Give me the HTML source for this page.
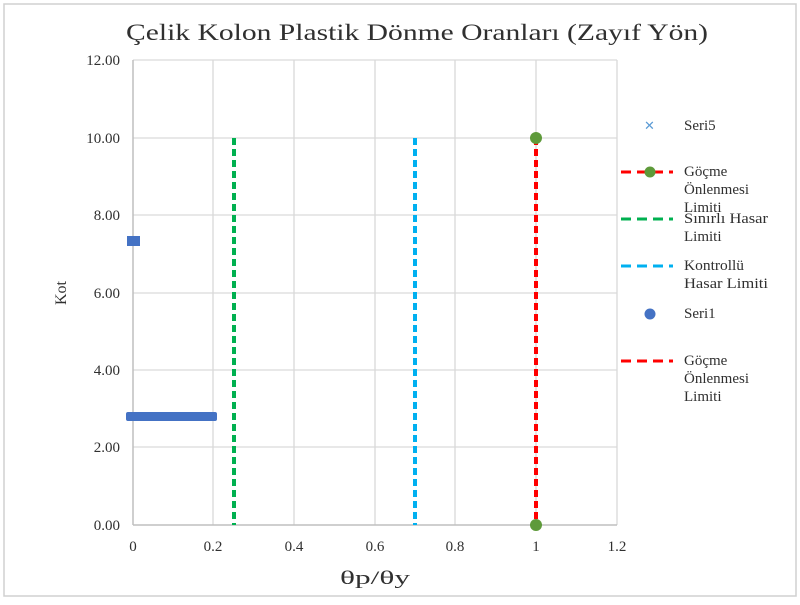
<!DOCTYPE html>
<html><head><meta charset="utf-8"><style>
body{margin:0;background:#fff;}
svg text{font-family:"Liberation Serif",serif;fill:#303030;}
</style></head><body>
<svg width="800" height="600" xmlns="http://www.w3.org/2000/svg">
<rect x="4" y="4" width="792" height="592" fill="#fff" stroke="#d0d0d0" stroke-width="1.5"/>
<text x="126" y="40" font-size="23" textLength="582" lengthAdjust="spacingAndGlyphs">Çelik Kolon Plastik Dönme Oranları (Zayıf Yön)</text>
<g stroke="#d9d9d9" stroke-width="1.3">
<line x1="133" y1="60" x2="617" y2="60"/><line x1="133" y1="138" x2="617" y2="138"/>
<line x1="133" y1="215" x2="617" y2="215"/><line x1="133" y1="293" x2="617" y2="293"/>
<line x1="133" y1="370" x2="617" y2="370"/><line x1="133" y1="447" x2="617" y2="447"/>
<line x1="213" y1="60" x2="213" y2="525"/><line x1="294" y1="60" x2="294" y2="525"/>
<line x1="375" y1="60" x2="375" y2="525"/><line x1="455" y1="60" x2="455" y2="525"/>
<line x1="536" y1="60" x2="536" y2="525"/><line x1="617" y1="60" x2="617" y2="525"/>
</g>
<g stroke="#bfbfbf" stroke-width="1.5"><line x1="133" y1="60" x2="133" y2="525"/><line x1="133" y1="525" x2="617" y2="525"/></g>
<g font-size="15" text-anchor="end">
<text x="120" y="65">12.00</text><text x="120" y="143">10.00</text><text x="120" y="220">8.00</text>
<text x="120" y="298">6.00</text><text x="120" y="375">4.00</text><text x="120" y="452">2.00</text><text x="120" y="530">0.00</text>
</g>
<g font-size="15" text-anchor="middle">
<text x="133" y="551">0</text><text x="213" y="551">0.2</text><text x="294" y="551">0.4</text><text x="375" y="551">0.6</text>
<text x="455" y="551">0.8</text><text x="536" y="551">1</text><text x="617" y="551">1.2</text>
</g>
<text x="340" y="584" font-size="19" textLength="70" lengthAdjust="spacingAndGlyphs">θp/θy</text>
<text x="66" y="293" font-size="16" text-anchor="middle" transform="rotate(-90 66 293)">Kot</text>
<g stroke-width="4" stroke-dasharray="7 4" fill="none">
<line x1="234" y1="138" x2="234" y2="525" stroke="#00b050"/>
<line x1="415" y1="138" x2="415" y2="525" stroke="#00b0f0"/>
<line x1="536" y1="138" x2="536" y2="525" stroke="#ff0000"/>
</g>
<circle cx="536" cy="138" r="6" fill="#5e9a3a"/><circle cx="536" cy="525" r="6" fill="#5e9a3a"/>
<rect x="127" y="236" width="13" height="10" fill="#4472c4"/>
<rect x="126" y="412" width="91" height="9" rx="2" fill="#4472c4"/>
<g font-size="15">
<text x="644" y="130" font-size="13" style="fill:#5b9bd5">✕</text><text x="684" y="130">Seri5</text>
<line x1="621" y1="172" x2="673" y2="172" stroke="#ff0000" stroke-width="3" stroke-dasharray="10 6"/><circle cx="650" cy="172" r="5.5" fill="#5e9a3a"/>
<text x="684" y="176">Göçme</text><text x="684" y="194">Önlenmesi</text><text x="684" y="212">Limiti</text>
<line x1="621" y1="219" x2="673" y2="219" stroke="#00b050" stroke-width="3" stroke-dasharray="10 6"/>
<text x="684" y="223" textLength="84" lengthAdjust="spacingAndGlyphs">Sınırlı Hasar</text><text x="684" y="241">Limiti</text>
<line x1="621" y1="266" x2="673" y2="266" stroke="#00b0f0" stroke-width="3" stroke-dasharray="10 6"/>
<text x="684" y="270" textLength="60" lengthAdjust="spacingAndGlyphs">Kontrollü</text><text x="684" y="288" textLength="84" lengthAdjust="spacingAndGlyphs">Hasar Limiti</text>
<circle cx="650" cy="314" r="5.5" fill="#4472c4"/><text x="684" y="318">Seri1</text>
<line x1="621" y1="361" x2="673" y2="361" stroke="#ff0000" stroke-width="3" stroke-dasharray="10 6"/>
<text x="684" y="365">Göçme</text><text x="684" y="383">Önlenmesi</text><text x="684" y="401">Limiti</text>
</g>
</svg>
</body></html>
